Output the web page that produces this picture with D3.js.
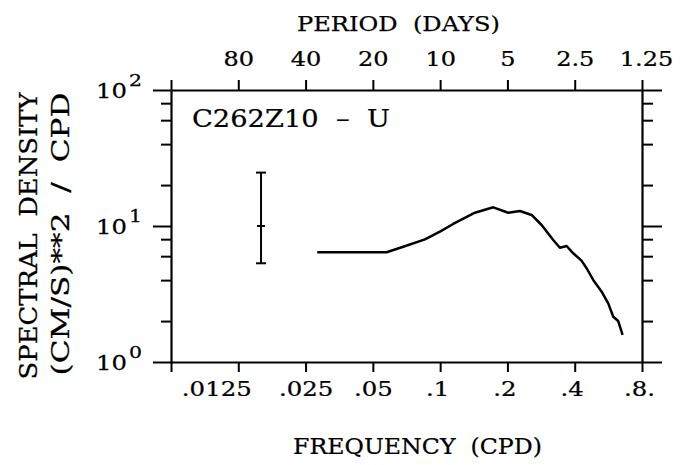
<!DOCTYPE html>
<html>
<head>
<meta charset="utf-8">
<script src="https://cdn.jsdelivr.net/npm/d3@7"></script>
<style>
  html, body { margin: 0; padding: 0; background: #fff; }
  svg { display: block; }
  text { font-family: "DejaVu Serif", "Liberation Serif", serif; fill: #000; stroke: #000; stroke-width: 0.25px; }
</style>
</head>
<body>
<svg id="chart" width="683" height="465"></svg>
<script>
// ---- data ----
const frequency = [0.0282, 0.0576, 0.0684, 0.0855, 0.0998, 0.1144, 0.1431, 0.1728, 0.2017, 0.2275,
                   0.2566, 0.2844, 0.3206, 0.3434, 0.368, 0.394, 0.429, 0.452, 0.484, 0.528,
                   0.565, 0.595, 0.626, 0.655];
const density   = [6.41, 6.41, 7.04, 7.98, 9.08, 10.35, 12.52, 13.72, 12.52, 12.90,
                   12.05, 10.17, 7.89, 6.92, 7.13, 6.30, 5.56, 4.89, 4.01, 3.29,
                   2.70, 2.15, 2.00, 1.58];
const errorBarFreq = [0.0158];
const errorBarLow  = [5.32];
const errorBarMid  = [10];
const errorBarHigh = [24.7];

const freqTicks      = [0.00625, 0.0125, 0.025, 0.05, 0.1, 0.2, 0.4, 0.8];
const freqTickLabels = ["", ".0125", ".025", ".05", ".1", ".2", ".4", ".8."];
const periodTicks      = [160, 80, 40, 20, 10, 5, 2.5, 1.25];
const periodTickLabels = ["", "80", "40", "20", "10", "5", "2.5", "1.25"];
const yMajorTicks = [1, 10, 100];
const yMajorExp   = ["0", "1", "2"];
const yMinorTicks = [2, 4, 6, 8, 20, 40, 60, 80];
const NB = "\u00A0";
const seriesLabel = "C262Z10" + NB + NB + "\u2013" + NB + NB + "U";

// ---- layout ----
const L = 171, R = 642, T = 90, B = 362;
const svg = d3.select("#chart");

const x = d3.scaleLog().domain([0.00625, 0.8]).range([L, R]);
const xP = d3.scaleLog().domain([160, 1.25]).range([L, R]);
const y = d3.scaleLog().domain([1, 100]).range([B, T]);

function styleAxis(g) {
  g.selectAll("path.domain").attr("stroke", "#000").attr("stroke-width", 2.2);
  g.selectAll(".tick line").attr("stroke", "#000").attr("stroke-width", 2);
}

// draws text stretched horizontally to a target width
function fitText(str, o) {
  const g = svg.append("g").attr("transform", `translate(${o.x},${o.y}) rotate(${o.rotate || 0})`);
  const t = g.append("text").attr("font-size", o.size).attr("text-anchor", o.anchor || "start").text(str);
  const w = t.node().getComputedTextLength();
  t.attr("transform", `scale(${o.width / w},1)`);
  return t;
}

// bottom axis
const gB = svg.append("g").attr("transform", `translate(0,${B})`)
  .call(d3.axisBottom(x).tickValues(freqTicks)
    .tickFormat((d, i) => freqTickLabels[i]).tickSize(10).tickSizeOuter(0).tickPadding(10));
styleAxis(gB);
gB.selectAll(".tick text").attr("font-size", 20).attr("font-family", "DejaVu Serif")
  .attr("transform", (d, i) => `translate(${i === 1 ? -22 : (i >= 4 ? -3 : 0)},0) scale(1.22,1)`);

// top axis
const gT = svg.append("g").attr("transform", `translate(0,${T})`)
  .call(d3.axisTop(xP).tickValues(periodTicks)
    .tickFormat((d, i) => periodTickLabels[i]).tickSize(10).tickSizeOuter(0).tickPadding(14));
styleAxis(gT);
gT.selectAll(".tick text").attr("font-size", 20).attr("font-family", "DejaVu Serif")
  .attr("transform", (d, i) => `translate(${i === 7 ? 4 : 0},0) scale(1.2,1)`);

// left axis: major + minor
const gL = svg.append("g").attr("transform", `translate(${L},0)`)
  .call(d3.axisLeft(y).tickValues(yMajorTicks).tickFormat("").tickSize(18).tickSizeOuter(0));
styleAxis(gL);
const gLm = svg.append("g").attr("transform", `translate(${L},0)`)
  .call(d3.axisLeft(y).tickValues(yMinorTicks).tickFormat("").tickSize(10).tickSizeOuter(0));
styleAxis(gLm);
gLm.select("path.domain").remove();

// right axis: major + minor
const gR = svg.append("g").attr("transform", `translate(${R},0)`)
  .call(d3.axisRight(y).tickValues(yMajorTicks).tickFormat("").tickSize(20).tickSizeOuter(0));
styleAxis(gR);
const gRm = svg.append("g").attr("transform", `translate(${R},0)`)
  .call(d3.axisRight(y).tickValues(yMinorTicks).tickFormat("").tickSize(11).tickSizeOuter(0));
styleAxis(gRm);
gRm.select("path.domain").remove();

// y major labels 10^n
yMajorTicks.forEach((v, i) => {
  fitText("10", { x: 127, y: y(v) + 8, size: 21, width: 31, anchor: "end" });
  fitText(yMajorExp[i], { x: 129, y: y(v) - 4, size: 17, width: 13 });
});

// titles
fitText("PERIOD" + NB + NB + "(DAYS)", { x: 297, y: 31, size: 21, width: 203 });
fitText("FREQUENCY" + NB + NB + "(CPD)", { x: 293, y: 454, size: 23, width: 249 });
fitText("SPECTRAL" + NB + NB + "DENSITY", { x: 37, y: 236, size: 24, width: 287, anchor: "middle", rotate: -90 });
fitText("(CM/S)**2" + NB + NB + "/" + NB + NB + "CPD", { x: 69, y: 234, size: 24, width: 283, anchor: "middle", rotate: -90 });

// series label
fitText(seriesLabel, { x: 192, y: 127, size: 25, width: 198 });

// error bar
const eb = svg.append("g").attr("stroke", "#000").attr("stroke-width", 2);
errorBarFreq.forEach((f, i) => {
  const cx = x(f);
  eb.append("line").attr("x1", cx).attr("x2", cx).attr("y1", y(errorBarHigh[i])).attr("y2", y(errorBarLow[i]));
  eb.append("line").attr("x1", cx - 5).attr("x2", cx + 5).attr("y1", y(errorBarHigh[i])).attr("y2", y(errorBarHigh[i]));
  eb.append("line").attr("x1", cx - 5).attr("x2", cx + 5).attr("y1", y(errorBarLow[i])).attr("y2", y(errorBarLow[i]));
  eb.append("line").attr("x1", cx - 4).attr("x2", cx + 4).attr("y1", y(errorBarMid[i])).attr("y2", y(errorBarMid[i]));
});

// spectrum line
const line = d3.line().x((d, i) => x(frequency[i])).y((d, i) => y(density[i]));
svg.append("path").datum(density).attr("d", line)
  .attr("fill", "none").attr("stroke", "#000").attr("stroke-width", 2.5)
  .attr("stroke-linejoin", "round");
</script>
</body>
</html>
